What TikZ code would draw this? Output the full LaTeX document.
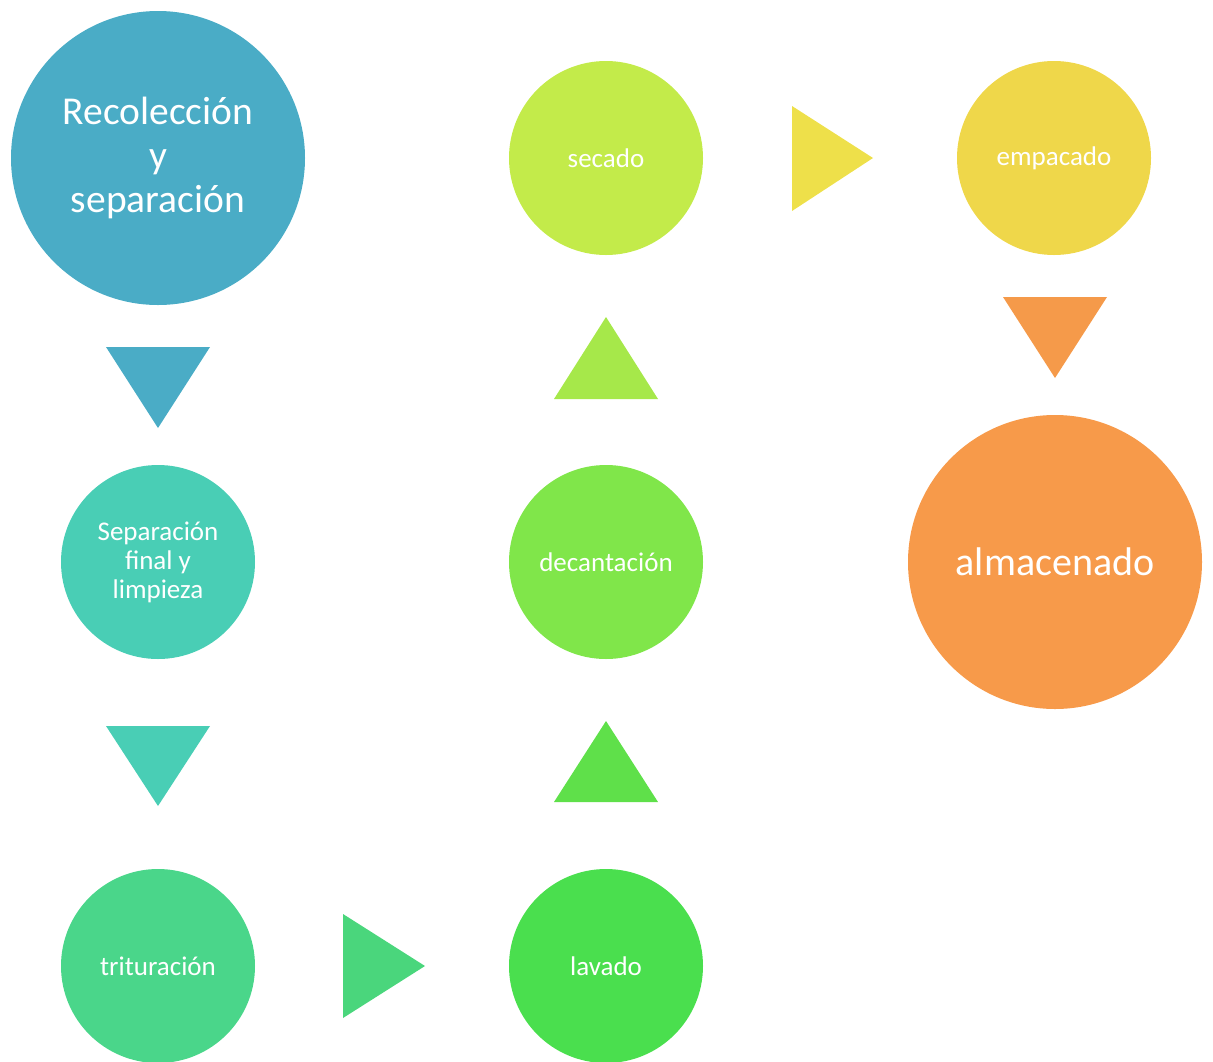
\documentclass[tikz,border=0pt]{standalone}
\usepackage{fontspec}
\setmainfont{Carlito}
\definecolor{cA}{HTML}{4AACC6}
\definecolor{cB}{HTML}{49CEB5}
\definecolor{cC}{HTML}{4AD68A}
\definecolor{cD}{HTML}{4ADF4E}
\definecolor{cE}{HTML}{80E64A}
\definecolor{cF}{HTML}{C3EB4A}
\definecolor{cG}{HTML}{EFD74A}
\definecolor{cH}{HTML}{F79A4A}
\definecolor{tC}{HTML}{4AD67C}
\definecolor{tD}{HTML}{5FE04A}
\definecolor{tE}{HTML}{A6E84A}
\definecolor{tG}{HTML}{EEE04A}
\definecolor{tH}{HTML}{F59A4A}
\begin{document}
\begin{tikzpicture}[x=1pt,y=-1pt,
  bigc/.style={circle,minimum size=294pt,inner sep=0pt,text=white,align=center,font=\fontsize{39.5}{44}\selectfont},
  smallc/.style={circle,minimum size=194pt,inner sep=0pt,text=white,align=center,font=\fontsize{27}{29}\selectfont}]
\useasboundingbox (0,0) rectangle (1213,1061);
\node[bigc,fill=cA] (rec) at (158,158) {Recolección\\y\\separación};
\node[smallc,fill=cB] (sep) at (158,562) {Separación\\final y\\limpieza};
\node[smallc,fill=cC] (tri) at (158,966) {trituración};
\node[smallc,fill=cD] (lav) at (606,966) {lavado};
\node[smallc,fill=cE] (dec) at (606,562) {decantación};
\node[smallc,fill=cF] (sec) at (606,158) {secado};
\node[smallc,fill=cG] (emp) at (1054,158) {empacado};
\node[bigc,fill=cH,font=\fontsize{40}{44}\selectfont] (alm) at (1055,562) {almacenado};
% arrow triangles
\fill[cA] (106,347) -- (210,347) -- (158,428) -- cycle;
\fill[cB] (106,726) -- (210,726) -- (158,806) -- cycle;
\fill[tC] (343,914) -- (343,1018) -- (425,966) -- cycle;
\fill[tD] (554,802) -- (658,802) -- (606,721) -- cycle;
\fill[tE] (554,399) -- (658,399) -- (606,317) -- cycle;
\fill[tG] (792,106) -- (792,211) -- (873,158) -- cycle;
\fill[tH] (1003,297) -- (1107,297) -- (1055,378) -- cycle;
\end{tikzpicture}
\end{document}
